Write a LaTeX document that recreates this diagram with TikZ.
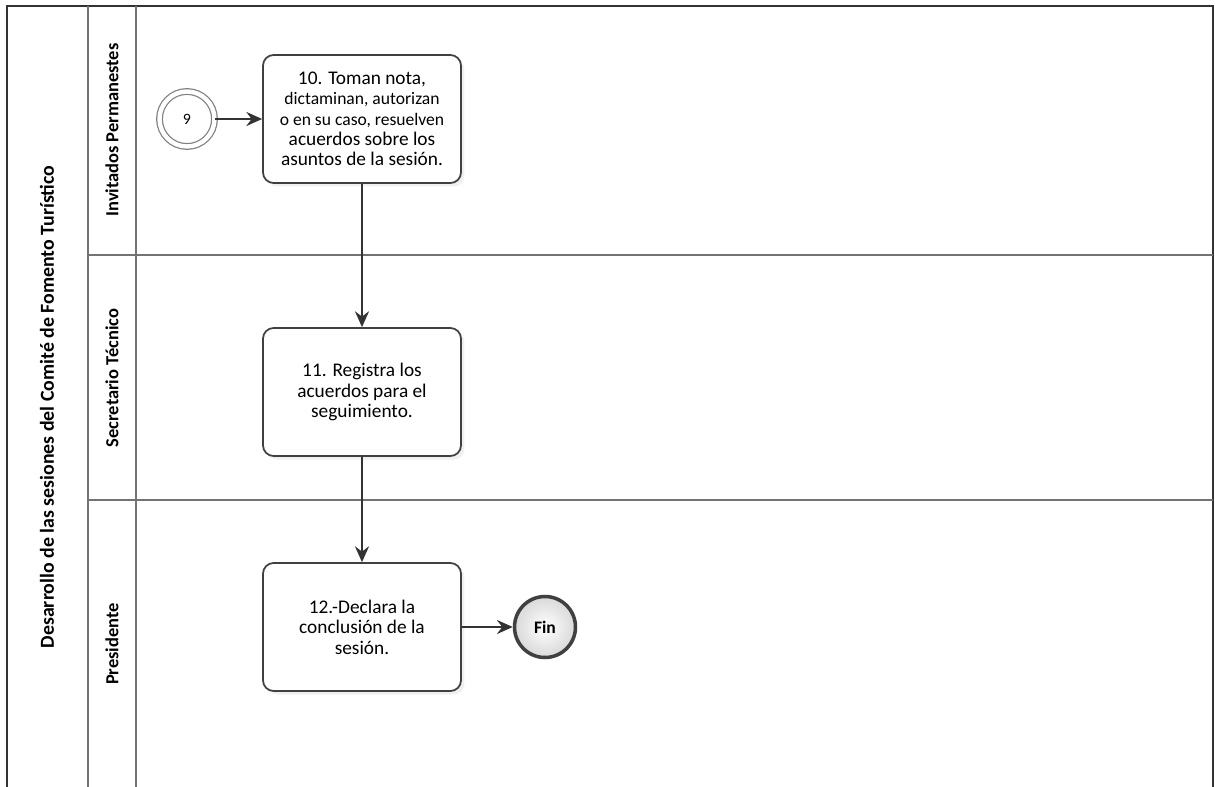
\documentclass[tikz,border=0pt]{standalone}
\usepackage{fontspec}
\setmainfont{Carlito}
\usetikzlibrary{arrows.meta,shadows}

\begin{document}
\begin{tikzpicture}[x=0.02cm,y=-0.02cm,
    tarea/.style={draw=black!75,line width=1pt,rounded corners=6pt,fill=white,
      minimum width=3.96cm,minimum height=2.56cm,align=center,
      font=\fontsize{11}{11.6}\selectfont,
      drop shadow={opacity=0.12,shadow xshift=2pt,shadow yshift=-2pt}},
    flecha/.style={-{Stealth[length=9pt,width=8pt,inset=3pt]},line width=0.9pt,black!80},
    carril/.style={draw=black!55,line width=0.6pt},
    rotulo/.style={rotate=90,font=\bfseries\fontsize{10.5}{12}\selectfont}]
  \useasboundingbox (0,0) rectangle (1215,787);

  \draw[black!80,line width=1pt] (7,787) -- (7,6) -- (1213,6) -- (1213,787);
  \draw[carril] (88,6) -- (88,787);
  \draw[carril] (136,6) -- (136,787);
  \draw[carril] (88,255) -- (1213,255);
  \draw[carril] (88,500) -- (1213,500);

  \node[rotulo,font=\bfseries\fontsize{11.3}{12}\selectfont] (pool) at (47,407) {Desarrollo de las sesiones del Comité de Fomento Turístico};
  \node[rotulo] (inv) at (112,130) {Invitados Permanestes};
  \node[rotulo] (sec) at (112,378) {Secretario Técnico};
  \node[rotulo] (pre) at (112,644) {Presidente};

  \node[tarea] (t10) at (362,119) {10. Toman nota,\\ {\fontsize{10}{11.6}\selectfont dictaminan, autorizan}\\ {\fontsize{10}{11.6}\selectfont o en su caso, resuelven}\\ acuerdos sobre los\\ asuntos de la sesión.};
  \node[tarea] (t11) at (362,392) {11. Registra los\\ acuerdos para el\\ seguimiento.};
  \node[tarea] (t12) at (362,627) {12.-Declara la\\ conclusión de la\\ sesión.};
  \node[circle,draw=black!50,double=white,double distance=2.5pt,line width=0.7pt,
    minimum size=1.1cm,fill=white,font=\small] (e9) at (187,119) {9};
  \node[circle,draw=black!75,line width=2pt,minimum size=1.22cm,
    inner color=white,outer color=black!15,font=\bfseries] (fin) at (545,627) {Fin};

  \draw[flecha] (e9) -- (t10);
  \draw[flecha] (t10) -- (t11);
  \draw[flecha] (t11) -- (t12);
  \draw[flecha] (t12) -- (fin);
\end{tikzpicture}
\end{document}
